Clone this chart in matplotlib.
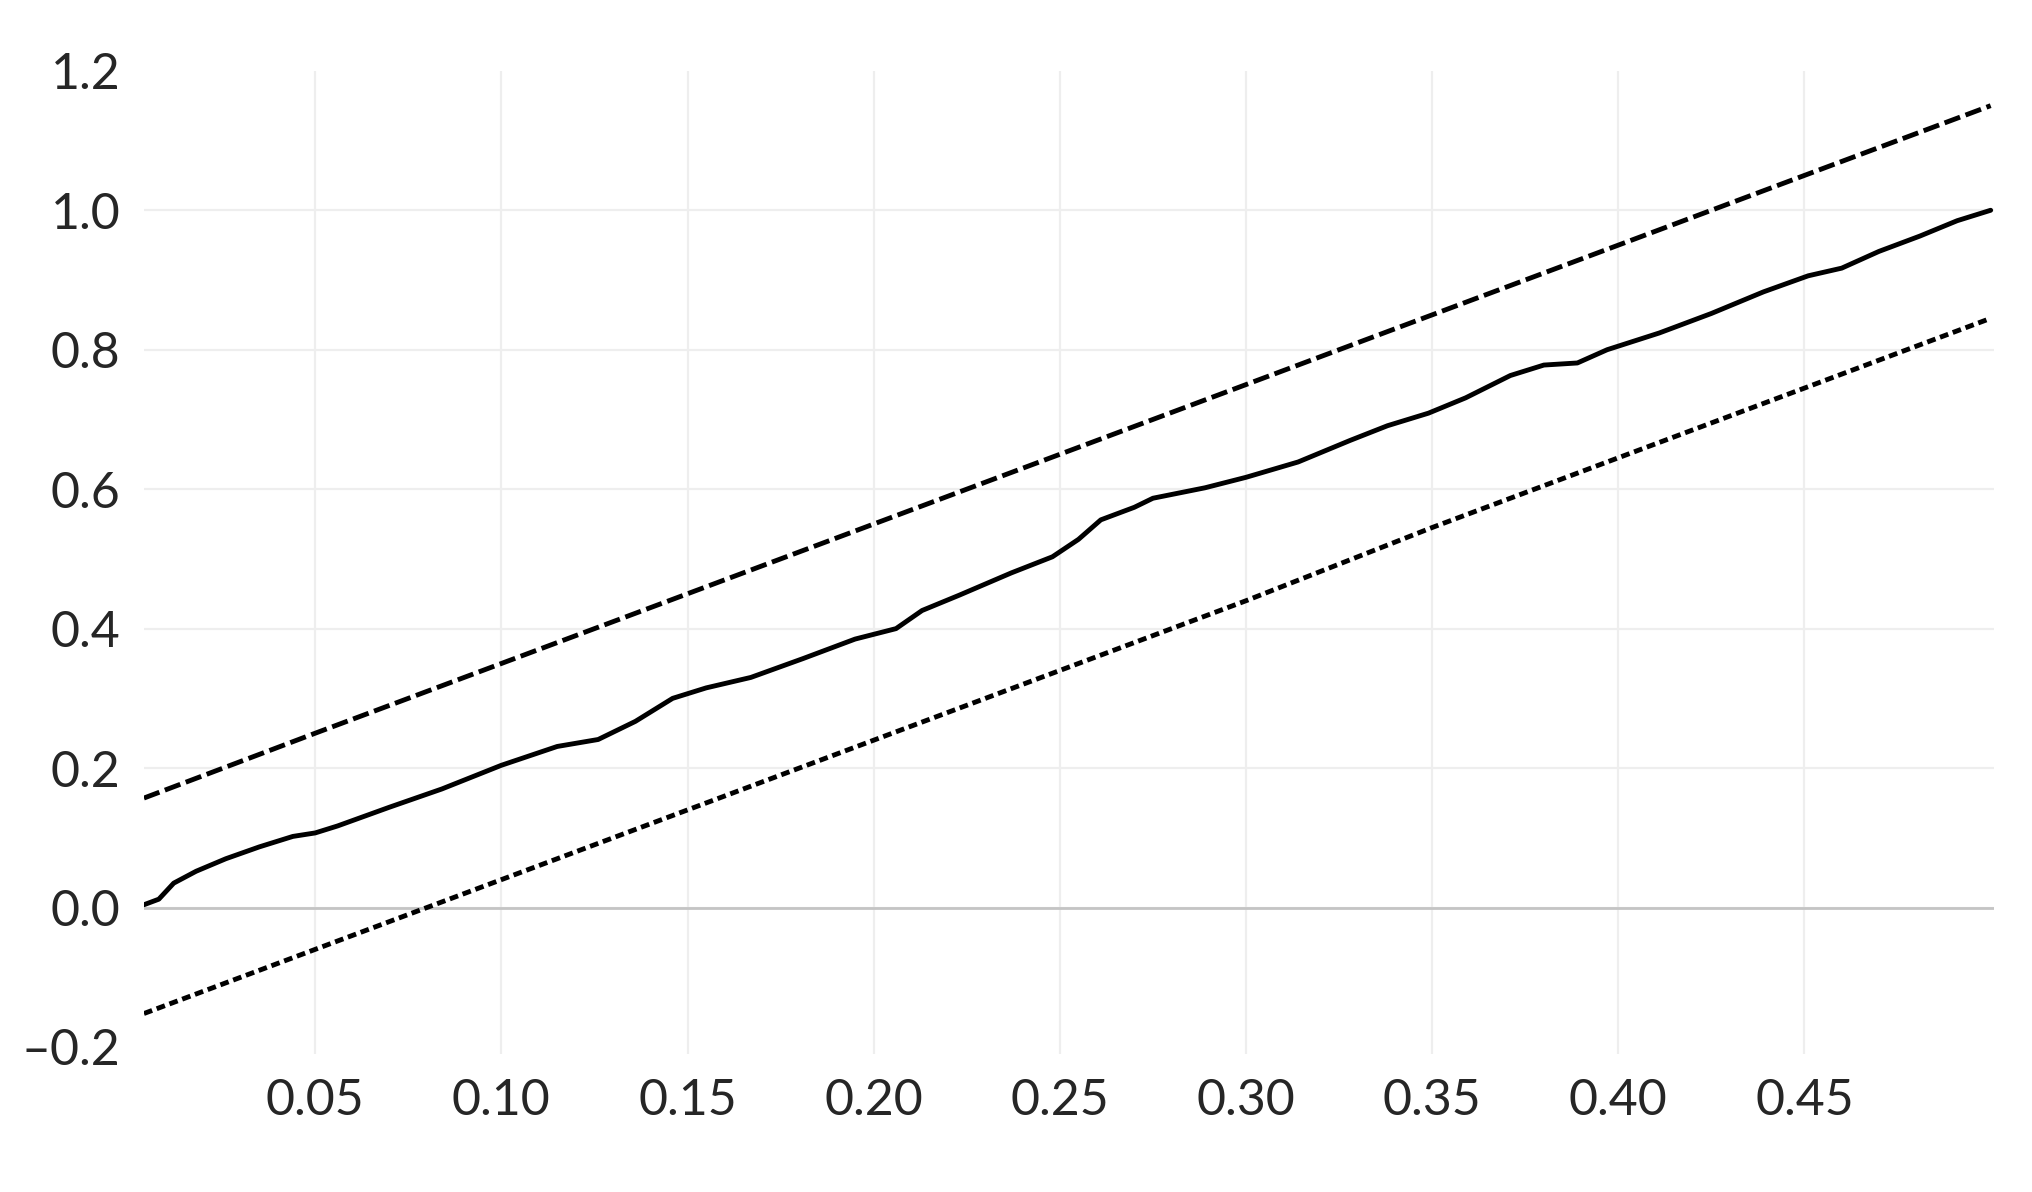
import matplotlib

matplotlib.use("Agg")

import matplotlib.pyplot as plt
import numpy as np

# solid line
mid_x = [0.004, 0.008, 0.012, 0.018, 0.026, 0.035, 0.044, 0.050, 0.056, 0.070,
         0.084, 0.100, 0.115, 0.126, 0.136, 0.146, 0.155, 0.167, 0.181, 0.195,
         0.206, 0.213, 0.223, 0.237, 0.248, 0.255, 0.261, 0.270, 0.275, 0.289,
         0.300, 0.314, 0.328, 0.338, 0.349, 0.359, 0.371, 0.380, 0.389, 0.397,
         0.411, 0.425, 0.439, 0.451, 0.460, 0.470, 0.481, 0.491, 0.500]
mid_y = [0.004, 0.012, 0.035, 0.052, 0.070, 0.087, 0.102, 0.107, 0.117, 0.144,
         0.170, 0.204, 0.231, 0.241, 0.267, 0.300, 0.315, 0.330, 0.357, 0.385,
         0.400, 0.426, 0.448, 0.480, 0.503, 0.528, 0.556, 0.574, 0.587, 0.602,
         0.617, 0.639, 0.670, 0.691, 0.709, 0.731, 0.763, 0.778, 0.781, 0.800,
         0.824, 0.852, 0.883, 0.906, 0.917, 0.941, 0.963, 0.985, 1.000]

# upper and lower bands
band_x = [0.004, 0.05, 0.10, 0.15, 0.20, 0.25, 0.30, 0.35, 0.40, 0.45, 0.50]
upper_y = [0.157, 0.250, 0.350, 0.450, 0.550, 0.650, 0.750, 0.850, 0.950, 1.050, 1.150]
lower_y = [-0.152, -0.060, 0.040, 0.140, 0.240, 0.340, 0.440, 0.545, 0.645, 0.745, 0.845]

x_ticks = [0.05, 0.10, 0.15, 0.20, 0.25, 0.30, 0.35, 0.40, 0.45]
y_ticks = [-0.2, 0.0, 0.2, 0.4, 0.6, 0.8, 1.0, 1.2]

plt.rcParams["font.family"] = ["Lato", "DejaVu Sans"]

fig = plt.figure(figsize=(20.33, 11.92), dpi=100)
ax = fig.add_axes([0.0708, 0.1158, 0.9102, 0.8248])

lw = 3.5
ax.plot(band_x, upper_y, color="black", linewidth=lw, dashes=(3.4, 1.2))
ax.plot(mid_x, mid_y, color="black", linewidth=lw, solid_capstyle="round",
        solid_joinstyle="round")
ax.plot(band_x, lower_y, color="black", linewidth=lw, dashes=(1.8, 1.0))

ax.axhline(0.0, color="#c4c4c4", linewidth=2.0, zorder=1)

ax.set_xlim(0.004, 0.501)
ax.set_ylim(-0.21, 1.2)
ax.set_xticks(x_ticks)
ax.set_yticks(y_ticks)
ax.set_xticklabels([f"{t:.2f}" for t in x_ticks])
ax.set_yticklabels([f"{t:.1f}".replace("-", "\u2013") for t in y_ticks])

ax.grid(True, color="#eeeeee", linewidth=1.6, zorder=0)
ax.set_axisbelow(True)
ygrid = ax.yaxis.get_gridlines()
ygrid[0].set_visible(False)
ygrid[-1].set_visible(False)
for spine in ax.spines.values():
    spine.set_visible(False)

ax.tick_params(axis="both", length=0, labelsize=36, colors="#262626")
ax.tick_params(axis="y", pad=17)
ax.tick_params(axis="x", pad=17)

fig.savefig("out.png", dpi=100, facecolor="white")
